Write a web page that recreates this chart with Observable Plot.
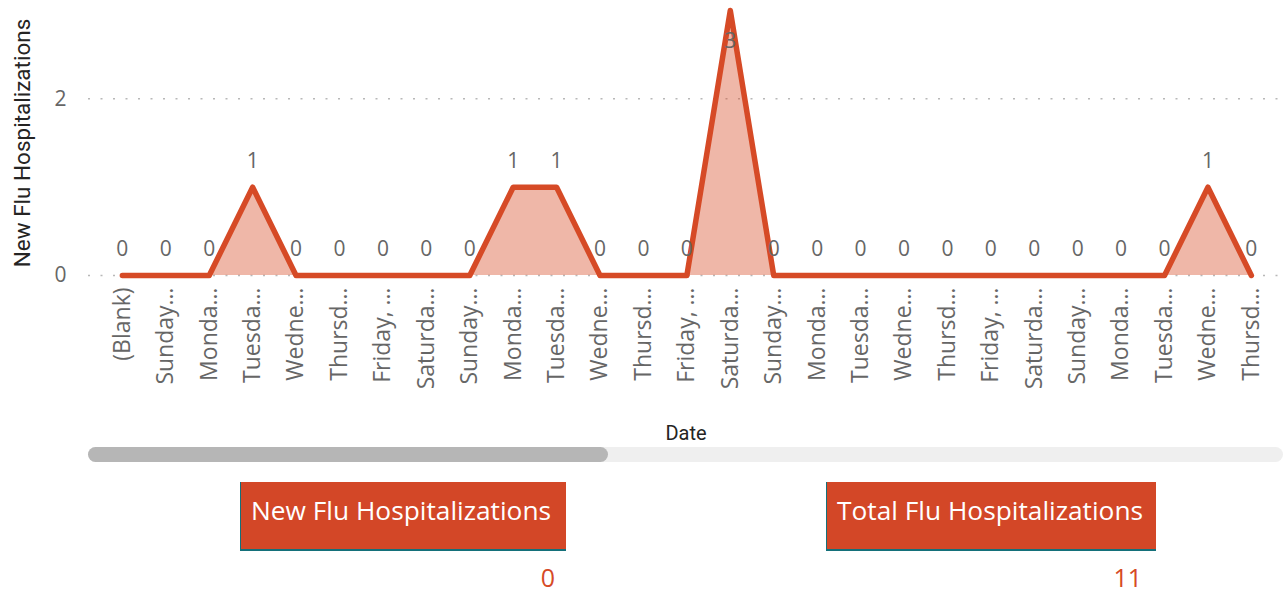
<!DOCTYPE html>
<html><head><meta charset="utf-8">
<script src="https://cdn.jsdelivr.net/npm/d3@7"></script>
<script src="https://cdn.jsdelivr.net/npm/@observablehq/plot@0.6"></script>
<style>
body{margin:0;background:#fff;font-family:"Open Sans",sans-serif;}
#wrap{position:relative;width:1283px;height:593px;overflow:hidden;background:#fff;}
#chart{position:absolute;left:0;top:0;}
g[aria-label="y-axis label"] text, g[aria-label="x-axis label"] text{fill:#252423;font-family:Roboto,sans-serif;font-weight:400;font-size:20px;}
g[aria-label="y-axis label"] text{font-size:22.5px;}
.track{position:absolute;left:88px;top:447px;width:1195px;height:15px;background:#efefef;border-radius:8px;}
.thumb{position:absolute;left:0;top:0;width:520px;height:15px;background:#b6b6b6;border-radius:8px;}
.card{position:absolute;top:482px;height:69px;background:#D34727;color:#fff;font-size:26.3px;line-height:56px;padding-left:10px;box-sizing:border-box;border-left:1px solid #14707a;border-bottom:2px solid #14707a;white-space:nowrap;}
.val{position:absolute;top:560px;color:#D64A26;font-size:25px;text-align:right;}
</style></head><body>
<div id="wrap">
<div id="chart"></div>
<div class="track"><div class="thumb"></div></div>
<div id="cards"></div>
</div>
<script>
const dateLabels = ["(Blank)","Sunday…","Monda…","Tuesda…","Wedne…","Thursd…","Friday, …","Saturda…","Sunday…","Monda…","Tuesda…","Wedne…","Thursd…","Friday, …","Saturda…","Sunday…","Monda…","Tuesda…","Wedne…","Thursd…","Friday, …","Saturda…","Sunday…","Monda…","Tuesda…","Wedne…","Thursd…"];
const newFlu = [0,0,0,1,0,0,0,0,0,1,1,0,0,0,3,0,0,0,0,0,0,0,0,0,0,1,0];
const yTicks = [0,2];
const cardTitles = ["New Flu Hospitalizations","Total Flu Hospitalizations"];
const cardValues = [0, 11];

const data = dateLabels.map((label,i)=>({i,label,value:newFlu[i]}));
const maxV = d3.max(newFlu);
const col = "#D64A26";

const plot = Plot.plot({
  width:1283, height:440, marginLeft:88, marginRight:0, marginTop:10, marginBottom:165,
  style:{fontFamily:"Open Sans", fontSize:"20px", color:"#666", background:"transparent", overflow:"visible"},
  x:{type:"linear", domain:[-0.78,26.74], axis:null},
  y:{domain:[0,3], axis:null},
  marks:[
    Plot.gridY(yTicks,{stroke:"#b8b8b8", strokeOpacity:1, strokeDasharray:"2,10.5", strokeWidth:1.5}),
    Plot.axisY(yTicks,{tickSize:0, tickPadding:22, fontSize:21, fill:"#666", tickFormat:d=>String(d), label:"New Flu Hospitalizations", labelAnchor:"center", labelArrow:"none", labelOffset:74}),
    Plot.axisX(d3.range(dateLabels.length),{tickSize:0, tickRotate:-90, tickPadding:12, fontSize:23, fill:"#666", tickFormat:i=>dateLabels[i], label:"Date", labelAnchor:"center", labelArrow:"none", labelOffset:164}),
    Plot.areaY(data,{x:"i", y:"value", fill:col, fillOpacity:0.4}),
    Plot.lineY(data,{x:"i", y:"value", stroke:col, strokeWidth:5.5, strokeLinecap:"round", strokeLinejoin:"round"}),
    Plot.text(data.filter(d=>d.value<maxV),{x:"i", y:"value", text:d=>String(d.value), dy:-26, fontSize:21, fill:"#666"}),
    Plot.text(data.filter(d=>d.value===maxV),{x:"i", y:"value", text:d=>String(d.value), dy:31, fontSize:21, fill:"#666"})
  ]
});
document.getElementById("chart").appendChild(plot);

const cardPos = [{left:240,width:326,valRight:555},{left:826,width:330,valRight:1142}];
const cards = document.getElementById("cards");
cardTitles.forEach((t,k)=>{
  const c = document.createElement("div");
  c.className="card"; c.style.left=cardPos[k].left+"px"; c.style.width=cardPos[k].width+"px";
  c.textContent=t; cards.appendChild(c);
  const v = document.createElement("div");
  v.className="val"; v.style.left=(cardPos[k].valRight-200)+"px"; v.style.width="200px";
  v.textContent=String(cardValues[k]); cards.appendChild(v);
});
</script>
</body></html>
